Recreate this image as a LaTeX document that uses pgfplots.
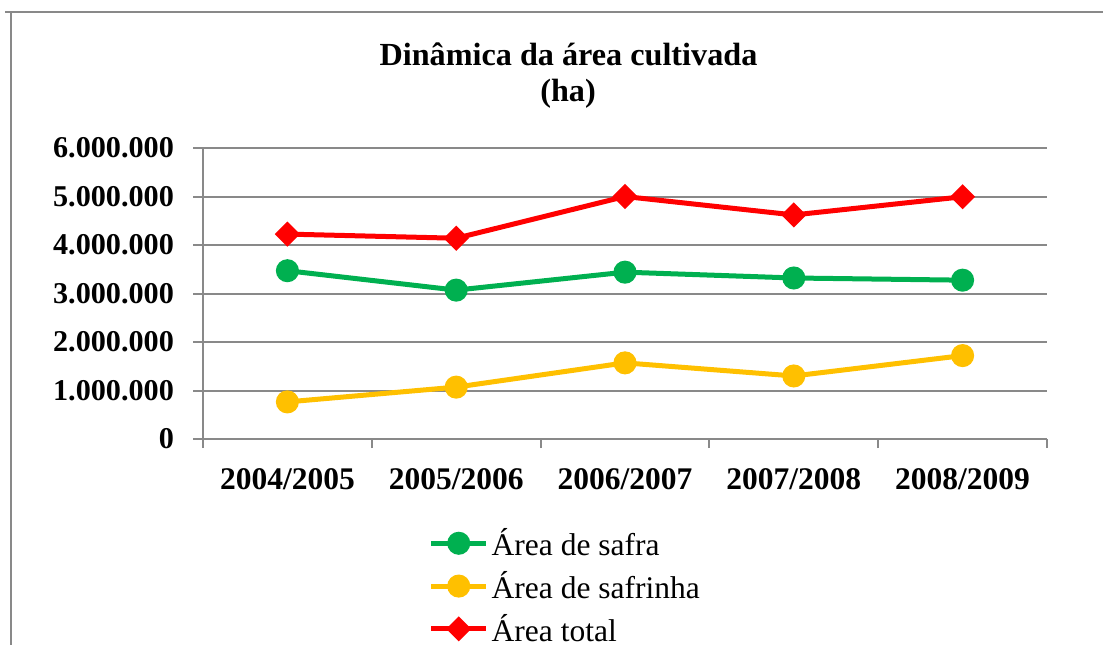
\documentclass[border=0pt]{standalone}
\usepackage{fontspec}
\setmainfont{Liberation Serif}
\usepackage{pgfplots}
\pgfplotsset{compat=1.18}
\definecolor{cgreen}{HTML}{00B050}
\definecolor{cyellow}{HTML}{FFC000}
\definecolor{cred}{HTML}{FF0000}
\definecolor{cgrid}{HTML}{898989}
\newcommand{\fs}{\fontsize{15.75}{19}\selectfont}
\begin{document}
\begin{tikzpicture}
\useasboundingbox (0,0) rectangle (551.5pt,322.5pt);
\draw[cgrid, line width=1.3pt] (2.5pt,316.5pt) -- (551.5pt,316.5pt);
\draw[cgrid, line width=1.3pt] (5.5pt,316.5pt) -- (5.5pt,0pt);
\node[font=\fontsize{16.1}{19}\selectfont\bfseries, inner sep=0pt] at (284.25pt,295.5pt) {Dinâmica da área cultivada};
\node[font=\fontsize{16.1}{19}\selectfont\bfseries, inner sep=0pt] at (284pt,275.8pt) {(ha)};
\begin{axis}[
  at={(101.5pt,103pt)}, anchor=south west,
  width=422pt, height=145.5pt, scale only axis,
  xmin=-0.5, xmax=4.5, ymin=0, ymax=6000000,
  axis x line*=bottom, axis y line*=left,
  axis line style={cgrid, line width=1pt, -},
  tick align=outside,
  xtick={0,1,2,3,4},
  xticklabels={2004/2005,2005/2006,2006/2007,2007/2008,2008/2009},
  major x tick style={draw=none},
  minor xtick={-0.5,0.5,1.5,2.5,3.5,4.5},
  minor x tick style={cgrid, line width=1pt},
  minor tick length=4.5pt,
  ytick={0,1000000,2000000,3000000,4000000,5000000,6000000},
  y tick style={cgrid, line width=1pt},
  major tick length=5pt,
  ymajorgrids,
  major grid style={cgrid, line width=1pt},
  scaled y ticks=false,
  /pgf/number format/fixed,
  /pgf/number format/1000 sep={.},
  /pgf/number format/assume math mode=true,
  ticklabel style={font=\fs\bfseries, text=black},
  xticklabel style={yshift=-6pt},
  yticklabel style={xshift=-6pt, font=\fontsize{15.1}{19}\selectfont\bfseries},
  legend style={at={(0.267,-0.314)}, anchor=north west, draw=none, fill=none,
    font=\fs, inner sep=0pt, row sep=8.9pt,
    nodes={inner xsep=1.5pt, inner ysep=0pt, text height=12.5pt, text depth=0pt}},
  legend cell align=left,
  legend image code/.code={\draw[mark repeat=2, mark phase=2, #1] plot coordinates {(0pt,0pt) (13.75pt,0pt) (27.5pt,0pt)};},
  clip=false,
]
\addplot[cgreen, line width=2.5pt, mark=*, mark size=4.5pt, mark options={solid}]
  coordinates {(0,3470000) (1,3070000) (2,3440000) (3,3320000) (4,3275000)};
\addlegendentry{Área de safra}
\addplot[cyellow, line width=2.5pt, mark=*, mark size=4.5pt, mark options={solid}]
  coordinates {(0,765000) (1,1070000) (2,1570000) (3,1300000) (4,1720000)};
\addlegendentry{Área de safrinha}
\addplot[cred, line width=2.5pt, mark=square*, mark size=3.2pt, mark options={solid, rotate=45}]
  coordinates {(0,4225000) (1,4140000) (2,5000000) (3,4620000) (4,4995000)};
\addlegendentry{Área total}
\end{axis}
\end{tikzpicture}
\end{document}
